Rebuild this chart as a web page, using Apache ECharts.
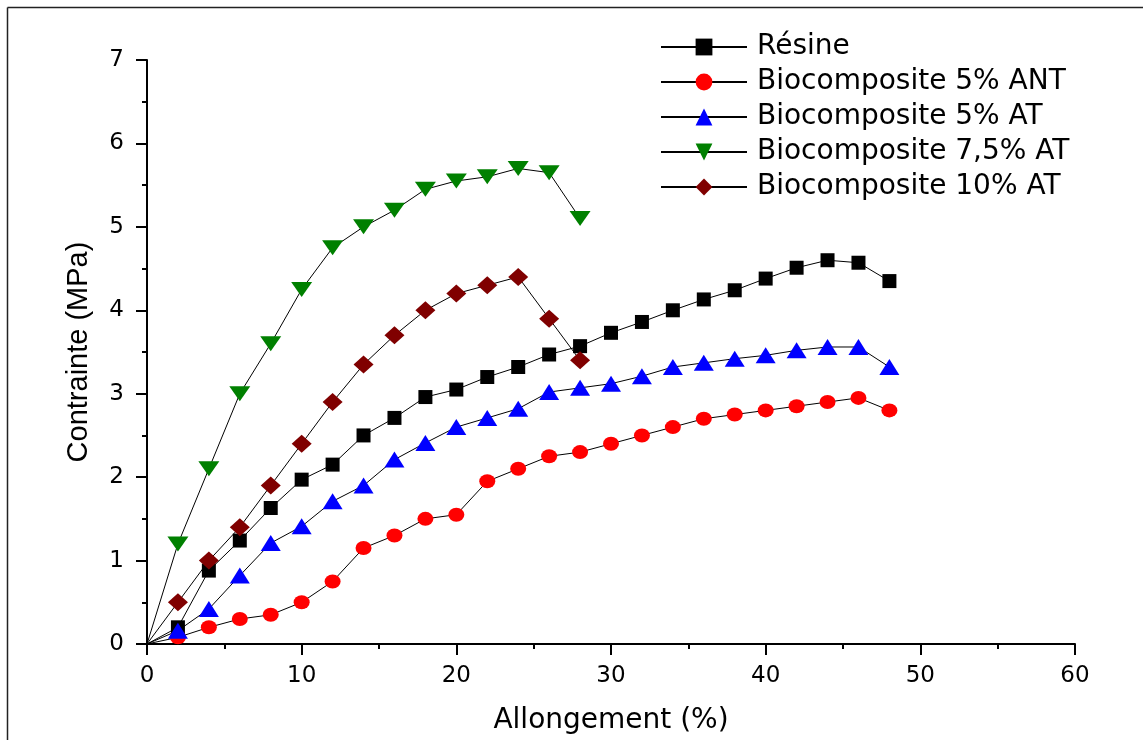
<!DOCTYPE html>
<html>
<head>
<meta charset="utf-8">
<script src="https://cdn.jsdelivr.net/npm/echarts@6/dist/echarts.min.js"></script>
<style>
html,body{margin:0;padding:0;background:#fff;}
#chart{width:1143px;height:740px;}
</style>
</head>
<body>
<div id="chart"></div>
<script>
// ---- Data ----
const xLong = [0,2,4,6,8,10,12,14,16,18,20,22,24,26,28,30,32,34,36,38,40,42,44,46,48];
const xShort = [0,2,4,6,8,10,12,14,16,18,20,22,24,26,28];
const resine = [0,0.2,0.88,1.24,1.63,1.97,2.15,2.5,2.71,2.96,3.05,3.2,3.32,3.47,3.57,3.73,3.86,4.0,4.13,4.24,4.38,4.51,4.6,4.57,4.35];
const bio5ANT = [0,0.08,0.2,0.3,0.35,0.5,0.75,1.15,1.3,1.5,1.55,1.95,2.1,2.25,2.3,2.4,2.5,2.6,2.7,2.75,2.8,2.85,2.9,2.95,2.8];
const bio5AT = [0,0.16,0.42,0.82,1.21,1.41,1.71,1.9,2.21,2.41,2.6,2.71,2.82,3.02,3.07,3.12,3.21,3.32,3.37,3.42,3.46,3.52,3.56,3.56,3.32];
const bio75AT = [0,1.2,2.1,3.0,3.6,4.25,4.75,5.0,5.2,5.45,5.55,5.6,5.7,5.65,5.1];
const bio10AT = [0,0.5,1.0,1.4,1.9,2.4,2.9,3.35,3.7,4.0,4.2,4.3,4.4,3.9,3.4];
const names = ['Résine','Biocomposite 5% ANT','Biocomposite 5% AT','Biocomposite 7,5% AT','Biocomposite 10% AT'];
const xTicks = [0,10,20,30,40,50,60];
const yTicks = [0,1,2,3,4,5,6,7];

function pts(xs, ys){
  return xs.map((x,i)=> x === 0 ? {value:[x,ys[i]], symbol:'none'} : {value:[x,ys[i]]});
}

const downTri = 'path://M0,0L10,0L5,10Z';
const seriesDefs = [
  {name:names[0], data:pts(xLong,resine), symbol:'rect', size:14, color:'#000000'},
  {name:names[1], data:pts(xLong,bio5ANT), symbol:'circle', size:[16,14], color:'#ff0000'},
  {name:names[2], data:pts(xLong,bio5AT), symbol:'triangle', size:[20,16], color:'#0000ff'},
  {name:names[3], data:pts(xShort,bio75AT), symbol:downTri, size:[21,15], color:'#008000'},
  {name:names[4], data:pts(xShort,bio10AT), symbol:'diamond', size:[20,18], color:'#800000'}
];

const chart = echarts.init(document.getElementById('chart'), null, {renderer:'canvas'});
const tickFont = 'DejaVu Sans';
chart.setOption({
  animation:false,
  backgroundColor:'#ffffff',
  grid:{left:147, right:68, top:60, bottom:96, containLabel:false},
  graphic:[
    {type:'line', shape:{x1:7.5,y1:7.5,x2:1143,y2:7.5}, style:{stroke:'#222',lineWidth:1.5}, z:100},
    {type:'line', shape:{x1:7.5,y1:7.5,x2:7.5,y2:740}, style:{stroke:'#222',lineWidth:1.5}, z:100}
  ],
  legend:{
    orient:'vertical', left:660, top:32, itemWidth:86, itemHeight:21, itemGap:5,
    padding:0,
    data:names,
    textStyle:{fontFamily:tickFont, fontSize:28, color:'#000', lineHeight:30, padding:[0,0,0,5]}
  },
  xAxis:{
    type:'value', min:0, max:60, interval:10,
    name:'Allongement (%)', nameLocation:'middle', nameGap:63,
    nameTextStyle:{fontFamily:tickFont, fontSize:28, color:'#000'},
    axisLine:{show:true, onZero:false, lineStyle:{color:'#000', width:2}},
    axisTick:{show:true, inside:false, length:11, lineStyle:{color:'#000', width:2}},
    minorTick:{show:true, splitNumber:2, length:5, lineStyle:{color:'#000', width:2}},
    splitLine:{show:false},
    axisLabel:{fontFamily:tickFont, fontSize:23, color:'#000', margin:21,
      formatter:(v)=> xTicks.includes(v) ? String(v) : ''}
  },
  yAxis:{
    type:'value', min:0, max:7, interval:1,
    name:'Contrainte (MPa)', nameLocation:'middle', nameGap:54,
    nameTextStyle:{fontFamily:'Liberation Sans', fontSize:29, color:'#000'},
    axisLine:{show:true, onZero:false, lineStyle:{color:'#000', width:2}},
    axisTick:{show:true, inside:false, length:11, lineStyle:{color:'#000', width:2}},
    minorTick:{show:true, splitNumber:2, length:5, lineStyle:{color:'#000', width:2}},
    splitLine:{show:false},
    axisLabel:{fontFamily:tickFont, fontSize:23, color:'#000', margin:23,
      formatter:(v)=> yTicks.includes(v) ? String(v) : ''}
  },
  series: seriesDefs.map((s)=>({
    name:s.name, type:'line', data:s.data,
    symbol:s.symbol, symbolSize:s.size, showAllSymbol:true,
    lineStyle:{color:'#000', width:1},
    itemStyle:{color:s.color, borderWidth:0},
    emphasis:{disabled:true},
    clip:false
  }))
});
</script>
</body>
</html>
